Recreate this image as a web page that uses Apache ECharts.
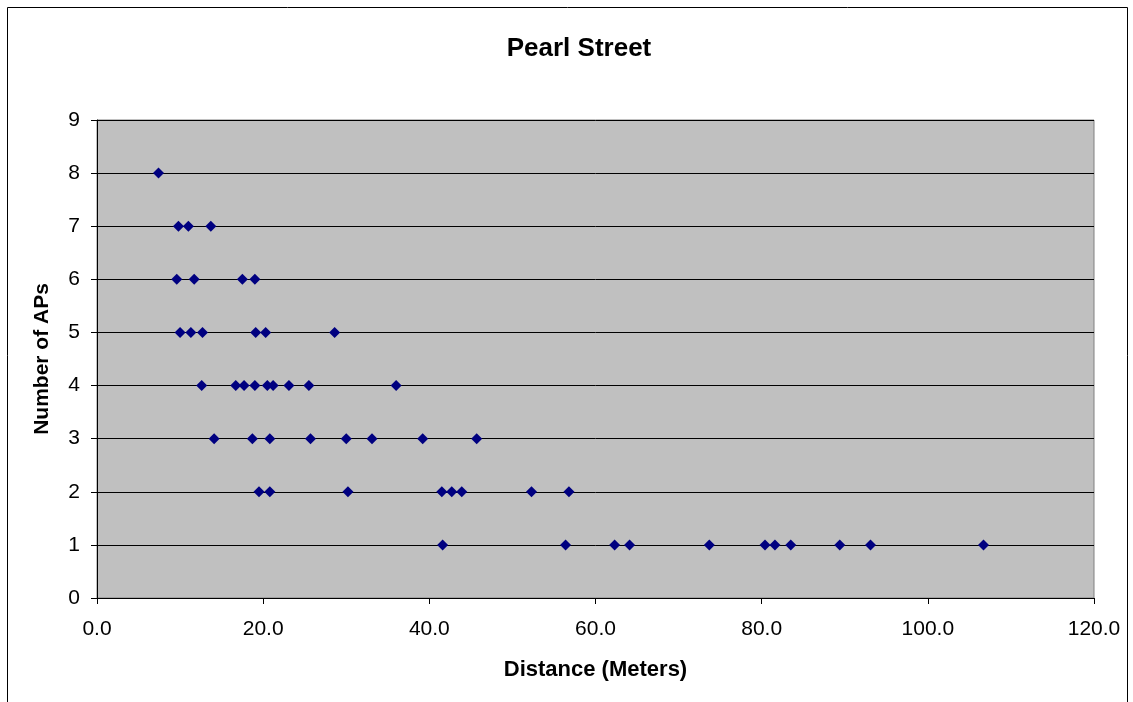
<!DOCTYPE html>
<html>
<head>
<meta charset="utf-8">
<script src="https://cdn.jsdelivr.net/npm/echarts@6/dist/echarts.min.js"></script>
<style>
  html, body { margin: 0; padding: 0; background: #fff; }
  #chart { width: 1133px; height: 702px; }
</style>
</head>
<body>
<div id="chart"></div>
<script>
// distance in meters for each access-point count
var dist8 = [7.4];
var dist7 = [9.8, 11.0, 13.7];
var dist6 = [9.6, 11.7, 17.5, 19.0];
var dist5 = [10.0, 11.3, 12.7, 19.1, 20.3, 28.6];
var dist4 = [12.6, 16.7, 17.7, 19.0, 20.5, 21.2, 23.1, 25.5, 36.0];
var dist3 = [14.1, 18.7, 20.8, 25.7, 30.0, 33.1, 39.2, 45.7];
var dist2 = [19.5, 20.8, 30.2, 41.5, 42.7, 43.9, 52.3, 56.8];
var dist1 = [41.6, 56.4, 62.3, 64.1, 73.7, 80.4, 81.6, 83.5, 89.4, 93.1, 106.7];

var groups = [
    [1, dist1], [2, dist2], [3, dist3], [4, dist4],
    [5, dist5], [6, dist6], [7, dist7], [8, dist8]
];

var points = [];
groups.forEach(function (g) {
    g[1].forEach(function (d) {
        points.push([d, g[0]]);
    });
});

var chart = echarts.init(document.getElementById('chart'));

var font = 'Liberation Sans, Arial, sans-serif';

chart.setOption({
    animation: false,
    textStyle: {fontFamily: font},
    title: {
        text: 'Pearl Street',
        left: 574,
        top: 31,
        textAlign: 'center',
        textStyle: {fontSize: 26, fontWeight: 'bold', color: '#000', fontFamily: font}
    },
    graphic: [{
        type: 'rect',
        shape: {x: 7.5, y: 7.5, width: 1120, height: 700},
        style: {fill: 'none', stroke: '#000', lineWidth: 1},
        silent: true
    }],
    grid: {
        left: 97,
        top: 120,
        width: 997,
        height: 478,
        show: true,
        backgroundColor: '#C0C0C0',
        borderColor: '#808080',
        borderWidth: 1
    },
    xAxis: {
        type: 'value',
        min: 0,
        max: 120,
        interval: 20,
        name: 'Distance (Meters)',
        nameLocation: 'middle',
        nameGap: 61,
        nameTextStyle: {fontSize: 22, fontWeight: 'bold', color: '#000', fontFamily: font},
        axisLine: {show: true, lineStyle: {color: '#000', width: 1}},
        axisTick: {show: true, length: 6, inside: false, lineStyle: {color: '#000'}},
        axisLabel: {
            fontSize: 21, color: '#000', margin: 21, fontFamily: font,
            formatter: function (v) { return v.toFixed(1); }
        },
        splitLine: {show: false}
    },
    yAxis: {
        type: 'value',
        min: 0,
        max: 9,
        interval: 1,
        name: 'Number of APs',
        nameLocation: 'middle',
        nameGap: 44,
        nameTextStyle: {fontSize: 21, fontWeight: 'bold', color: '#000', fontFamily: font},
        axisLine: {show: true, lineStyle: {color: '#000', width: 1}},
        axisTick: {show: true, length: 6, inside: false, lineStyle: {color: '#000'}},
        axisLabel: {fontSize: 21, color: '#000', margin: 17, fontFamily: font},
        splitLine: {show: true, lineStyle: {color: '#000', width: 1}}
    },
    series: [{
        type: 'scatter',
        data: points,
        symbol: 'diamond',
        symbolSize: 11,
        itemStyle: {color: '#000080', opacity: 1}
    }]
});
</script>
</body>
</html>
